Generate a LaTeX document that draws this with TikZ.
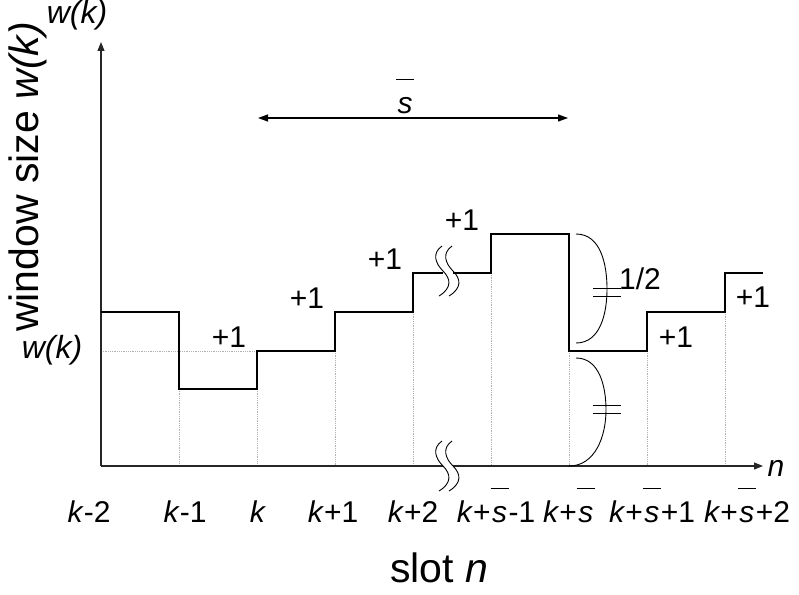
\documentclass[tikz,border=0pt]{standalone}
\usepackage{fontspec}
\setmainfont{Liberation Sans}
\usetikzlibrary{arrows.meta}
\newcommand\barS{\leavevmode\vbox{\offinterlineskip\halign{\hfil##\hfil\cr\vrule width0.6em height0.055em\cr\noalign{\kern0.55em}\itshape s\cr}}}
\begin{document}
\begin{tikzpicture}[x=1pt,y=-1pt,
  font=\fontsize{30}{36}\selectfont,
  stepline/.style={line width=1.6pt},
  guide/.style={black!30, densely dotted, line width=0.8pt},
  axisline/.style={line width=1.1pt, black!85},
  axisarrow/.style={axisline, -{Triangle[length=9pt,width=7pt]}},
  brk/.style={line width=0.9pt},
  arc/.style={line width=0.9pt},
  lbl/.style={inner sep=0pt, anchor=base},
  wlbl/.style={lbl, font=\fontsize{32}{38}\selectfont},
  big/.style={font=\fontsize{41}{48}\selectfont}]
\useasboundingbox (0,0) rectangle (799,594);

% guide lines
\draw[guide] (101,351) -- (257,351);
\draw[guide] (179,389) -- (179,466);
\draw[guide] (257,389) -- (257,466);
\draw[guide] (335,351) -- (335,466);
\draw[guide] (413,312) -- (413,466);
\draw[guide] (491,273) -- (491,466);
\draw[guide] (569,351) -- (569,466);
\draw[guide] (647,351) -- (647,466);
\draw[guide] (725,312) -- (725,466);

% axes
\coordinate (O) at (101,466);
\coordinate (ytop) at (101,42);
\coordinate (xb1) at (443,466);
\coordinate (xb2) at (453,466);
\coordinate (xend) at (763,466);
\draw[axisarrow] (O) -- (ytop);
\draw[axisline] (O) -- (xb1);
\draw[axisarrow] (xb2) -- (xend);

% steps
\draw[stepline] (101,312) -| (179,389) -| (257,351) -| (335,312) -| (413,273) -- (443,273);
\draw[stepline] (453,273) -| (491,234) -- (569,234) -- (569,351) -| (647,312) -| (725,273) -- (763,273);

% break marks
\foreach \cy in {271,466}{
  \foreach \cx in {443,453}{
    \draw[brk] (\cx-1,\cy-25) .. controls (\cx-11,\cy-18) and (\cx-8,\cy-8) .. (\cx,\cy)
      .. controls (\cx+8,\cy+8) and (\cx+9,\cy+17) .. (\cx-4,\cy+25);
  }
}

% arcs (equal halves)
\draw[arc] (576,234) to[out=0,in=90] (607,289) to[out=-90,in=0] (576,343);
\draw[arc] (593,288) -- (621,288) (593,296) -- (621,296);
\draw[arc] (576,358) to[out=0,in=90] (606,410) to[out=-90,in=0] (569,466);
\draw[arc] (593,405) -- (621,405) (593,413) -- (621,413);

% s-bar arrow
\coordinate (sa) at (258,118);
\coordinate (sb) at (568,118);
\draw[line width=1.1pt, {Triangle[length=10pt,width=7pt]}-{Triangle[length=10pt,width=7pt]}] (sa) -- (sb);
\node[lbl] (stop) at (405,113) {\barS};

% +1 labels
\node[lbl] (p1) at (229,347) {+1};
\node[lbl] (p2) at (307,308) {+1};
\node[lbl] (p3) at (385,269) {+1};
\node[lbl] (p4) at (462,230) {+1};
\node[lbl] (p5) at (676,347) {+1};
\node[lbl] (p6) at (753,307) {+1};
\node[lbl] (half) at (640,289) {1/2};

% tick labels
\node[lbl] (t1) at (89,522) {\textit{k}-2};
\node[lbl] (t2) at (185,522) {\textit{k}-1};
\node[lbl] (t3) at (258,522) {\textit{k}};
\node[lbl] (t4) at (333,522) {\textit{k}+1};
\node[lbl] (t5) at (413,522) {\textit{k}+2};
\node[lbl] (t6) at (496,522) {\textit{k}+\barS-1};
\node[lbl] (t7) at (569,522) {\textit{k}+\barS};
\node[lbl] (t8) at (652,522) {\textit{k}+\barS+1};
\node[lbl] (t9) at (747,522) {\textit{k}+\barS+2};

% axis labels
\node[lbl] (nlab) at (776,476) {\textit{n}};
\node[lbl, big] (slot) at (439,582) {slot \textit{n}};
\node[big, inner sep=0pt, rotate=90] (ylab) at (28,177) {window size \textit{w(k)}};
\node[wlbl] (wtop) at (77,24) {\textit{w(k)}};
\node[wlbl] (wk) at (52,358) {\textit{w(k)}};
\end{tikzpicture}
\end{document}
